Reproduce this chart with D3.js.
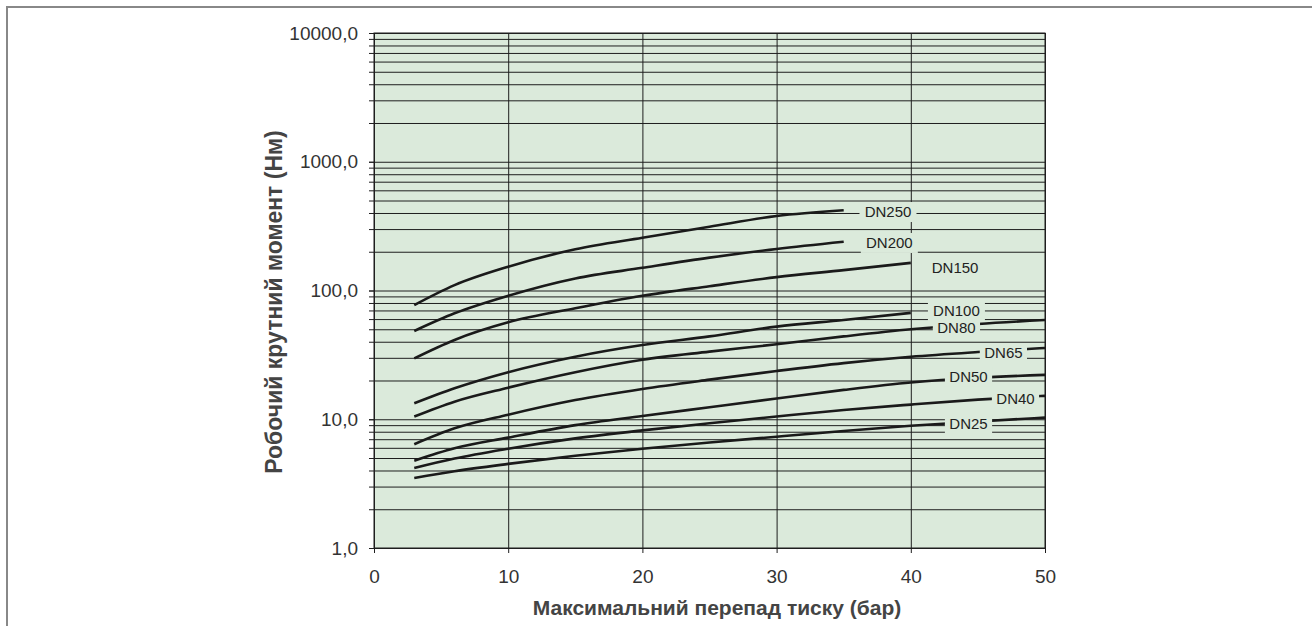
<!DOCTYPE html>
<html>
<head>
<meta charset="utf-8">
<script src="https://cdn.jsdelivr.net/npm/d3@7"></script>
<style>
 body{margin:0;background:#fff;}
 svg{display:block;font-family:"Liberation Sans",Arial,sans-serif;}
 .axis path{display:none;}
 .axis text{fill:#333;}
 .grid line{stroke:#1e1e1e;stroke-width:1;}
 .grid path{display:none;}
 .grid text{display:none;}
</style>
</head>
<body>
<script>
// chart values
var pressure=[3,6,10,15,20,25,30,35,40,45,50]; // bar
var dn250=[77,110,153,209,257,313,379,420];
var dn200=[48.5,66.5,91,124,150,180,210,239];
var dn150=[29.7,41.3,56.6,72.8,91,108,127,144,164];
var dn100=[13.3,17.4,23.2,30.6,37.7,44,52.4,59,67];
var dn80=[10.5,13.7,17.6,23.2,29,33.5,38.2,44,50,55,59];
var dn65=[6.4,8.5,10.85,14.1,17.2,20.3,23.7,27.3,30.6,33.3,35.8];
var dn50=[4.77,5.95,7.2,9.0,10.6,12.4,14.5,16.9,19.3,21.0,22.1];
var dn40=[4.18,4.95,5.9,7.1,8.2,9.3,10.5,11.8,13.0,14.2,15.2];
var dn25=[3.5,3.95,4.5,5.2,5.9,6.6,7.32,8.1,8.9,9.6,10.3];
var names=['DN250','DN200','DN150','DN100','DN80','DN65','DN50','DN40','DN25'];
var series=[dn250,dn200,dn150,dn100,dn80,dn65,dn50,dn40,dn25];
// label anchors (bar, Nm)
var labx=[38.3,38.4,43.3,43.4,43.4,46.9,44.3,47.8,44.3];
var laby=[407,234,150,69.3,51.2,32.7,21.3,14.4,9.2];
var xticks=[0,10,20,30,40,50];
var ymajor=[1,10,100,1000,10000];
var xtitle='Максимальний перепад тиску (бар)';
var ytitle='Робочий крутний момент (Нм)';

// layout
var wid=1312, hgh=626;
var pl=374, pr=1045, pt=33, pb=548; // plot edges
var bgcol='#dbeadb';

var svg=d3.select('body').append('svg').attr('width',wid).attr('height',hgh);

// outer frame
svg.append('path').attr('d','M1313,7H7V627')
  .attr('fill','none').attr('stroke','#888').attr('stroke-width',2);

var x=d3.scaleLinear().domain([0,50]).range([pl,pr]);
var y=d3.scaleLog().domain([1,10000]).range([pb,pt]);

var yall=[];
ymajor.forEach(function(d,i){
 if(i<ymajor.length-1){ for(var k=1;k<10;k++) yall.push(d*k); } else yall.push(d);
});

svg.append('rect').attr('x',pl).attr('y',pt)
  .attr('width',pr-pl).attr('height',pb-pt).attr('fill',bgcol);

// horizontal grid, running a bit left of the axis as the ticks
svg.append('g').attr('class','grid').attr('transform','translate('+pr+',0)')
  .call(d3.axisLeft(y).tickValues(yall).tickSize(pr-pl+5));
// vertical grid
svg.append('g').attr('class','grid').attr('transform','translate(0,'+pb+')')
  .call(d3.axisBottom(x).tickValues(xticks).tickSize(-(pb-pt)));

// plot border
svg.append('rect').attr('x',pl).attr('y',pt)
  .attr('width',pr-pl).attr('height',pb-pt)
  .attr('fill','none').attr('stroke','#1e1e1e').attr('stroke-width',1);

var loc=d3.formatLocale({decimal:',',thousands:'',grouping:[3],currency:['','']});
var fmt=loc.format('.1f');
var ya=svg.append('g').attr('class','axis').attr('transform','translate('+pl+',0)')
  .call(d3.axisLeft(y).tickValues(ymajor).tickSize(5).tickPadding(11).tickFormat(fmt));
ya.selectAll('text').attr('font-size',19);
ya.selectAll('line').attr('stroke','#1e1e1e');

var xa=svg.append('g').attr('class','axis').attr('transform','translate(0,'+pb+')')
  .call(d3.axisBottom(x).tickValues(xticks).tickSize(5).tickPadding(17));
xa.selectAll('text').attr('font-size',19);
xa.selectAll('line').attr('stroke','#1e1e1e');

// curves
var line=d3.line().x(function(d){return x(d[0]);}).y(function(d){return y(d[1]);})
  .curve(d3.curveMonotoneX);
svg.append('g').selectAll('path').data(series).enter().append('path')
  .attr('d',function(s){return line(s.map(function(v,i){return [pressure[i],v];}));})
  .attr('fill','none').attr('stroke','#1a1a1a').attr('stroke-width',2.6);

// labels with boxes
var lg=svg.append('g').selectAll('g').data(names).enter().append('g')
  .attr('transform',function(d,i){return 'translate('+x(labx[i])+','+y(laby[i])+')';});
lg.append('rect').attr('x',function(d){return -d.length*4.9-4;}).attr('y',-10)
  .attr('width',function(d){return d.length*9.8+8;}).attr('height',20).attr('fill',bgcol);
lg.append('text').attr('text-anchor','middle').attr('dy','0.36em')
  .attr('font-size',15).attr('fill','#222').text(function(d){return d;});

// axis titles
svg.append('text').attr('x',717).attr('y',615).attr('text-anchor','middle')
  .attr('font-size',21).attr('font-weight','bold').attr('fill','#444').text(xtitle);
svg.append('text').attr('transform','translate(282,302) rotate(-90)')
  .attr('text-anchor','middle').attr('font-size',23).attr('font-weight','bold')
  .attr('fill','#444').text(ytitle);
</script>
</body>
</html>
